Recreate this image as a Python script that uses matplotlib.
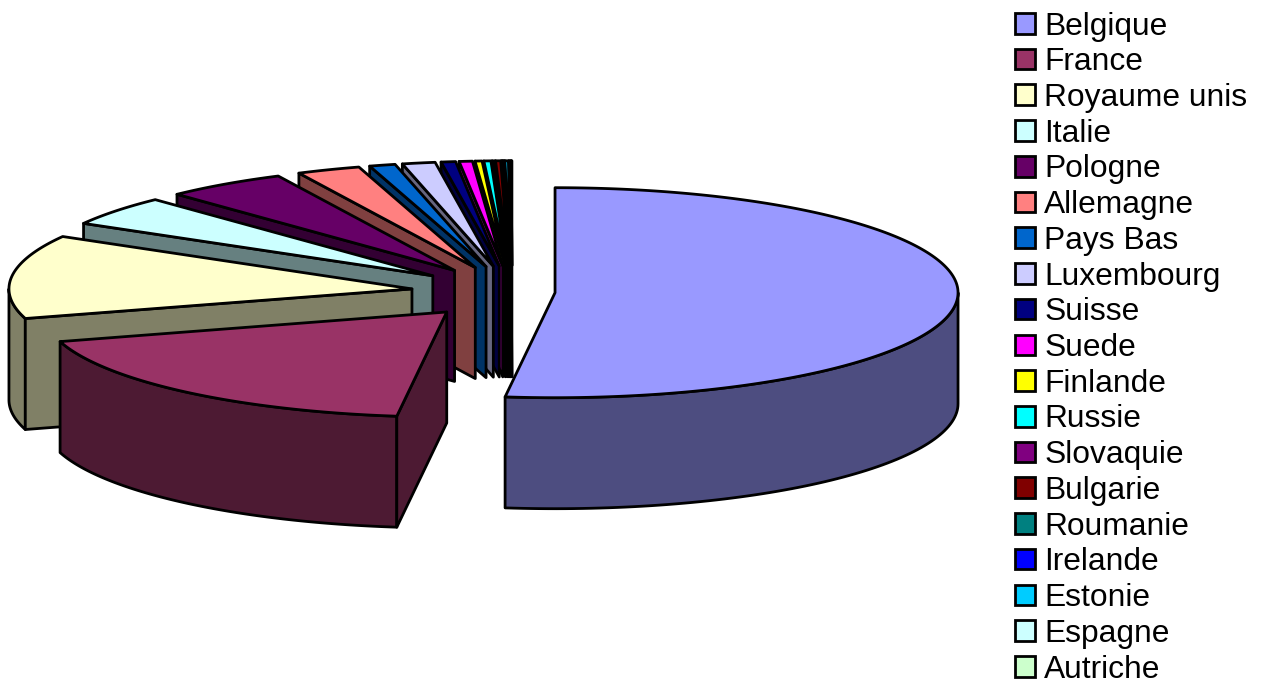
import matplotlib
matplotlib.use("Agg")
import matplotlib.pyplot as plt
import numpy as np
from matplotlib.patches import Patch, Polygon

plt.rcParams["font.family"] = ["Liberation Sans", "DejaVu Sans"]

countries = ["Belgique", "France", "Royaume unis", "Italie", "Pologne", "Allemagne",
             "Pays Bas", "Luxembourg", "Suisse", "Suede", "Finlande", "Russie",
             "Slovaquie", "Bulgarie", "Roumanie", "Irelande", "Estonie", "Espagne",
             "Autriche"]
shares = [52.05, 18.5, 12.88, 4.6, 4.89, 2.55, 1.04, 1.32, 0.58, 0.53, 0.28, 0.28,
          0.1, 0.2, 0.05, 0.05, 0.14, 0.07, 0.03]
explode = [0.107, 0.25, 0.25] + [0.25] * 16
colors = ["#9999FF", "#993366", "#FFFFCC", "#CCFFFF", "#660066", "#FF8080", "#0066CC",
          "#CCCCFF", "#000080", "#FF00FF", "#FFFF00", "#00FFFF", "#800080", "#800000",
          "#008080", "#0000FF", "#00CCFF", "#CCFFFF", "#CCFFCC"]

# pie geometry in image pixels
CX, CY = 512, 292
RX, RY = 403, 105
DEPTH = 111
LW = 2.0


def darker(c):
    return tuple(v * 0.5 for v in matplotlib.colors.to_rgb(c))


def project(theta, rad, ox, oy):
    # theta is clockwise from the top, as Excel starts its pies
    return np.column_stack([ox + rad * RX * np.sin(theta), oy - rad * RY * np.cos(theta)])


fig = plt.figure(figsize=(12.64, 6.81), dpi=100)
ax = fig.add_axes([0, 0, 1, 1])
ax.set_xlim(0, 1264)
ax.set_ylim(681, 0)
ax.axis("off")

edges = np.radians(np.cumsum([0] + shares) / sum(shares) * 360)
style = dict(edgecolor="black", linewidth=LW, joinstyle="round")

# back to front: last slice first, so France ends up over Royaume unis etc.
for i in range(len(shares) - 1, -1, -1):
    start, end = edges[i], edges[i + 1]
    mid = (start + end) / 2
    ox = CX + explode[i] * RX * np.sin(mid)
    oy = CY - explode[i] * RY * np.cos(mid)
    apex = np.array([[ox, oy]])
    down = np.array([0, DEPTH])
    side = darker(colors[i])

    # outer wall, only the front half of the rim is seen
    a0, a1 = max(start, np.pi / 2), min(end, 3 * np.pi / 2)
    if a1 > a0:
        rim = project(np.linspace(a0, a1, 80), 1, ox, oy)
        ax.add_patch(Polygon(np.vstack([rim, (rim + down)[::-1]]), facecolor=side, **style))

    # cut faces
    if np.sin(start) < -1e-6:
        p = project(np.array([start]), 1, ox, oy)
        ax.add_patch(Polygon(np.vstack([apex, p, p + down, apex + down]), facecolor=side, **style))
    if np.sin(end) > 1e-6:
        p = project(np.array([end]), 1, ox, oy)
        ax.add_patch(Polygon(np.vstack([apex, p, p + down, apex + down]), facecolor=side, **style))

    top = project(np.linspace(start, end, max(3, int((end - start) * 60))), 1, ox, oy)
    ax.add_patch(Polygon(np.vstack([apex, top]), facecolor=colors[i], **style))

handles = [Patch(facecolor=c, edgecolor="black", linewidth=LW, label=n)
           for c, n in zip(colors, countries)]
ax.legend(handles=handles, loc="upper left", bbox_to_anchor=(1015, 11.5),
          bbox_transform=ax.transData, frameon=False, fontsize=22.9, borderpad=0,
          borderaxespad=0, handlelength=0.62, handleheight=0.62, handletextpad=0.3,
          labelspacing=0.18)

fig.savefig("out.png", dpi=100)
